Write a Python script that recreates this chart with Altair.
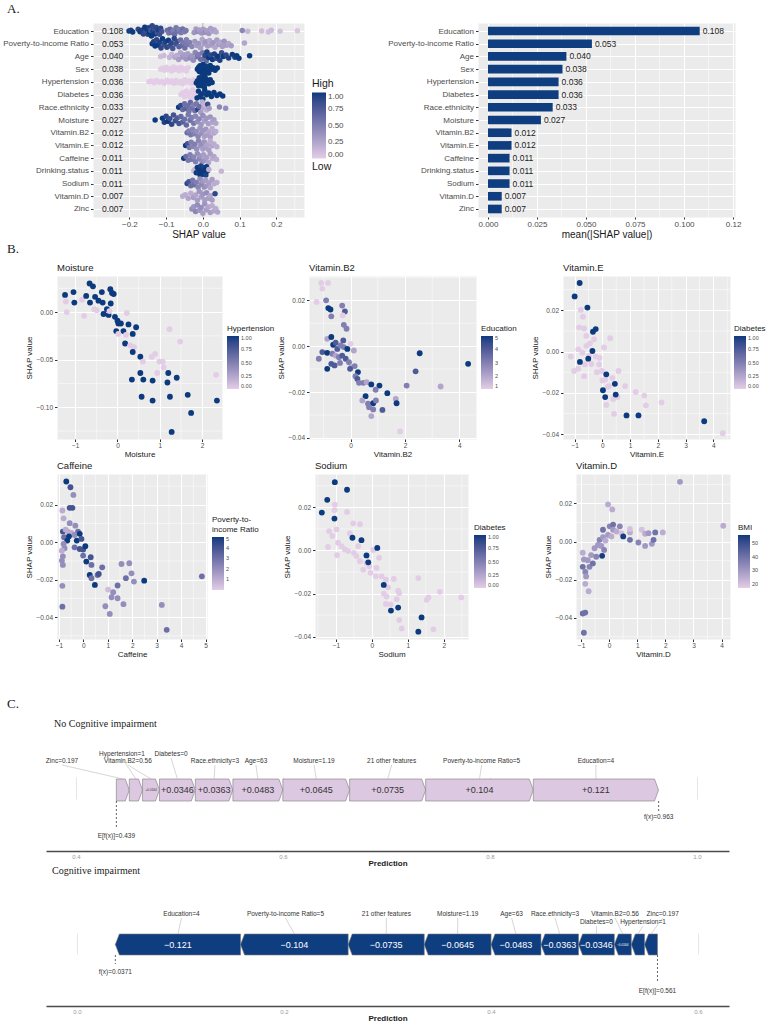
import json
import numpy as np
import pandas as pd
import altair as alt

SANS = "Liberation Sans"
SERIF = "Liberation Serif"
LOW = "#E3CDE6"
HIGH = "#0B3A7E"
NAVY = "#0E3D80"
LILAC = "#DDC8E2"
PANEL = "#EBEBEB"
TICK_TXT = "#4D4D4D"
INK = "#1A1A1A"

# ---------------- A: SHAP importance ----------------
features = ["Education", "Poverty-to-income Ratio", "Age", "Sex", "Hypertension",
            "Diabetes", "Race.ethnicity", "Moisture", "Vitamin.B2", "Vitamin.E",
            "Caffeine", "Drinking.status", "Sodium", "Vitamin.D", "Zinc"]
mean_abs_shap = [0.108, 0.053, 0.040, 0.038, 0.036, 0.036, 0.033, 0.027,
                 0.012, 0.012, 0.011, 0.011, 0.011, 0.007, 0.007]

# (SHAP value, scaled feature value) per beeswarm row
education_pts = [(-0.201, 1.0), (-0.196, 0.95), (-0.191, 1.0), (-0.176, 0.9), (-0.171, 1.0),
                 (-0.166, 0.95), (-0.162, 0.9), (-0.158, 1.0), (-0.155, 0.85), (-0.152, 1.0),
                 (-0.150, 0.9), (-0.147, 0.95), (-0.145, 1.0), (-0.142, 0.8), (-0.140, 1.0),
                 (-0.138, 0.9), (-0.135, 0.95), (-0.132, 0.85), (-0.130, 1.0), (-0.127, 0.9),
                 (-0.124, 0.8), (-0.121, 0.95), (-0.118, 0.85), (-0.115, 0.9), (-0.112, 0.8),
                 (-0.097, 0.6), (-0.093, 0.55), (-0.089, 0.65), (-0.085, 0.6), (-0.081, 0.5),
                 (-0.077, 0.6), (-0.073, 0.55), (-0.069, 0.6), (-0.065, 0.5), (-0.060, 0.55),
                 (-0.055, 0.6), (-0.050, 0.5), (-0.046, 0.55),
                 (-0.024, 0.35), (-0.019, 0.3), (-0.014, 0.4), (-0.009, 0.3), (-0.004, 0.35),
                 (0.001, 0.3), (0.006, 0.4), (0.011, 0.3), (0.016, 0.35), (0.021, 0.3),
                 (0.026, 0.25), (0.031, 0.3), (0.036, 0.25),
                 (0.107, 0.45), (0.122, 0.15), (0.160, 0.1), (0.178, 0.1), (0.186, 0.12),
                 (0.210, 0.08), (0.257, 0.05)]
poverty_pts = [(-0.138, 1.0), (-0.134, 0.95), (-0.130, 1.0), (-0.126, 0.9), (-0.122, 1.0),
               (-0.118, 0.95), (-0.114, 0.9), (-0.110, 1.0), (-0.106, 0.85), (-0.102, 0.95),
               (-0.098, 0.9), (-0.094, 1.0), (-0.090, 0.85), (-0.086, 0.9), (-0.082, 0.8),
               (-0.078, 0.9), (-0.074, 0.8), (-0.070, 0.85),
               (-0.065, 0.7), (-0.061, 0.6), (-0.057, 0.65), (-0.053, 0.55), (-0.049, 0.6),
               (-0.045, 0.5), (-0.041, 0.55), (-0.036, 0.5), (-0.030, 0.45),
               (-0.022, 0.35), (-0.017, 0.3), (-0.012, 0.35), (-0.007, 0.3), (-0.002, 0.25),
               (0.003, 0.3), (0.008, 0.35), (0.013, 0.3), (0.018, 0.25), (0.023, 0.3),
               (0.028, 0.35), (0.033, 0.25), (0.038, 0.3), (0.043, 0.3), (0.048, 0.25),
               (0.053, 0.3), (0.058, 0.35), (0.064, 0.3), (0.070, 0.25), (0.077, 0.3),
               (0.113, 0.25)]
age_pts = [(-0.115, 0.1), (-0.106, 0.12), (-0.091, 0.15), (-0.085, 0.15),
           (-0.076, 0.25), (-0.071, 0.2), (-0.066, 0.3), (-0.061, 0.25), (-0.056, 0.35),
           (-0.051, 0.3), (-0.046, 0.35), (-0.041, 0.3), (-0.036, 0.4), (-0.031, 0.35),
           (-0.026, 0.4), (-0.021, 0.45),
           (-0.016, 0.55), (-0.011, 0.5), (-0.006, 0.6), (-0.001, 0.55), (0.004, 0.6), (0.009, 0.65),
           (0.006, 0.9), (0.011, 0.95), (0.016, 1.0), (0.021, 0.9), (0.026, 1.0), (0.031, 0.95),
           (0.036, 0.9), (0.041, 1.0), (0.046, 0.95), (0.051, 0.85), (0.056, 1.0), (0.063, 0.9),
           (0.070, 0.95), (0.080, 1.0), (0.087, 0.95), (0.092, 1.0), (0.098, 1.0), (0.127, 1.0)]
sex_pts = [(-0.115, 0.0), (-0.110, 0.0), (-0.105, 0.0), (-0.100, 0.0), (-0.095, 0.0),
           (-0.090, 0.0), (-0.085, 0.0), (-0.080, 0.0), (-0.075, 0.0), (-0.070, 0.0),
           (-0.065, 0.0), (-0.060, 0.0), (-0.055, 0.0), (-0.050, 0.0), (-0.045, 0.0), (-0.040, 0.0),
           (-0.015, 1.0), (-0.012, 1.0), (-0.010, 1.0), (-0.008, 1.0), (-0.006, 1.0),
           (-0.004, 1.0), (-0.002, 1.0), (0.000, 1.0), (0.002, 1.0), (0.004, 1.0),
           (0.006, 1.0), (0.008, 1.0), (0.010, 1.0), (0.013, 1.0), (0.016, 1.0),
           (0.020, 1.0), (0.024, 1.0), (0.028, 1.0), (0.033, 1.0), (0.039, 1.0)]
hypertension_pts = [(-0.147, 0.0), (-0.140, 0.0), (-0.133, 0.0), (-0.126, 0.0), (-0.119, 0.0),
                    (-0.112, 0.0), (-0.105, 0.0), (-0.098, 0.0), (-0.091, 0.0), (-0.085, 0.0),
                    (-0.079, 0.0), (-0.073, 0.0), (-0.067, 0.0), (-0.061, 0.0), (-0.055, 0.0),
                    (-0.049, 0.0), (-0.043, 0.0), (-0.037, 0.0), (-0.031, 0.0), (-0.025, 0.0),
                    (-0.018, 1.0), (-0.015, 1.0), (-0.012, 1.0), (-0.010, 1.0), (-0.008, 1.0),
                    (-0.006, 1.0), (-0.004, 1.0), (-0.002, 1.0), (0.000, 1.0), (0.002, 1.0),
                    (0.004, 1.0), (0.006, 1.0), (0.009, 1.0), (0.012, 1.0), (0.016, 1.0),
                    (0.020, 1.0), (0.025, 1.0)]
diabetes_pts = [(-0.060, 0.0), (-0.055, 0.0), (-0.050, 0.0), (-0.045, 0.0), (-0.040, 0.0),
                (-0.036, 0.0), (-0.032, 0.0), (-0.028, 0.0), (-0.024, 0.0), (-0.020, 0.0),
                (-0.016, 1.0), (-0.012, 1.0), (-0.008, 1.0), (-0.004, 1.0), (0.000, 1.0),
                (0.005, 1.0), (0.010, 1.0), (0.016, 1.0), (0.023, 1.0), (0.030, 1.0),
                (0.038, 1.0), (0.046, 1.0), (0.054, 1.0)]
race_pts = [(-0.066, 1.0), (-0.060, 0.9), (-0.055, 0.65), (-0.050, 0.6), (-0.046, 0.7),
            (-0.042, 0.6), (-0.038, 0.55), (-0.034, 0.65), (-0.030, 0.6), (-0.026, 0.5),
            (-0.022, 0.6), (-0.018, 0.55), (-0.014, 0.9), (-0.010, 0.6), (-0.006, 0.3),
            (-0.002, 0.2), (0.002, 0.25), (0.006, 0.15), (0.010, 0.2), (0.013, 0.85),
            (0.017, 0.3), (0.045, 0.45), (0.062, 0.4)]
moisture_row_pts = [(-0.130, 1.0), (-0.110, 1.0), (-0.105, 0.95), (-0.100, 0.9), (-0.095, 1.0),
                    (-0.090, 0.85), (-0.085, 0.9), (-0.080, 0.8), (-0.075, 0.85), (-0.070, 0.75),
                    (-0.065, 0.8), (-0.060, 0.65), (-0.055, 0.7), (-0.050, 0.6), (-0.045, 0.65),
                    (-0.040, 0.55), (-0.035, 0.6), (-0.030, 0.5), (-0.025, 0.55),
                    (-0.020, 0.45), (-0.015, 0.4), (-0.010, 0.45), (-0.005, 0.35), (0.000, 0.4),
                    (0.005, 0.3), (0.010, 0.35), (0.015, 0.3), (0.020, 0.35), (0.025, 0.25),
                    (0.030, 0.3), (0.035, 0.25)]
vitb2_row_pts = [(-0.043, 0.6), (-0.038, 0.5), (-0.033, 0.55), (-0.028, 0.45), (-0.023, 0.5),
                 (-0.018, 0.4), (-0.013, 0.45), (-0.008, 0.35), (-0.004, 0.4), (0.000, 0.35),
                 (0.004, 0.3), (0.008, 0.35), (0.012, 0.3), (0.016, 0.25), (0.020, 0.3),
                 (0.025, 0.2), (0.030, 0.25), (0.035, 0.2)]
vite_row_pts = [(-0.047, 1.0), (-0.042, 0.8), (-0.037, 0.55), (-0.032, 0.5), (-0.027, 0.45),
                (-0.022, 0.5), (-0.017, 0.4), (-0.012, 0.45), (-0.007, 0.35), (-0.003, 0.4),
                (0.000, 0.3), (0.004, 0.35), (0.008, 0.3), (0.012, 0.25), (0.016, 0.3),
                (0.020, 0.2), (0.025, 0.25), (0.030, 0.2), (0.038, 0.2)]
caffeine_row_pts = [(-0.052, 1.0), (-0.046, 0.6), (-0.040, 0.55), (-0.035, 0.5), (-0.030, 0.55),
                    (-0.025, 0.45), (-0.020, 0.5), (-0.015, 0.4), (-0.010, 0.45), (-0.006, 0.35),
                    (-0.002, 0.4), (0.002, 0.3), (0.006, 0.35), (0.010, 0.3), (0.015, 0.25),
                    (0.020, 0.3), (0.025, 0.2), (0.030, 0.25), (0.037, 0.2)]
drinking_row_pts = [(-0.025, 0.1), (-0.021, 0.15), (-0.018, 1.0), (-0.015, 1.0), (-0.012, 0.95),
                    (-0.010, 1.0), (-0.008, 1.0), (-0.006, 0.95), (-0.004, 1.0), (-0.002, 1.0),
                    (0.000, 1.0), (0.002, 0.95), (0.004, 1.0), (0.006, 1.0), (0.008, 0.95),
                    (0.010, 1.0), (0.012, 1.0), (0.016, 0.2), (0.050, 0.15)]
sodium_row_pts = [(-0.043, 0.9), (-0.038, 0.8), (-0.033, 0.6), (-0.028, 0.55), (-0.023, 0.6),
                  (-0.018, 0.5), (-0.013, 0.45), (-0.008, 0.4), (-0.004, 0.45), (0.000, 0.35),
                  (0.004, 0.4), (0.008, 0.3), (0.012, 0.35), (0.016, 0.3), (0.020, 0.25),
                  (0.025, 0.3), (0.030, 0.2), (0.038, 0.2)]
vitd_row_pts = [(-0.055, 0.2), (-0.048, 0.2), (-0.040, 0.25), (-0.033, 0.2), (-0.026, 0.3),
                (-0.020, 0.25), (-0.015, 0.3), (-0.010, 0.35), (-0.005, 0.3), (0.000, 0.35),
                (0.005, 0.3), (0.010, 0.4), (0.015, 0.3), (0.020, 0.25), (0.025, 0.3), (0.033, 0.9)]
zinc_row_pts = [(-0.030, 0.4), (-0.025, 0.35), (-0.020, 0.45), (-0.015, 0.4), (-0.010, 0.35),
                (-0.005, 0.4), (0.000, 0.3), (0.005, 0.35), (0.010, 0.3), (0.015, 0.25),
                (0.020, 0.3), (0.025, 0.2), (0.030, 0.25), (0.035, 0.2), (0.040, 0.25)]

bee_rows = [education_pts, poverty_pts, age_pts, sex_pts, hypertension_pts, diabetes_pts,
            race_pts, moisture_row_pts, vitb2_row_pts, vite_row_pts, caffeine_row_pts,
            drinking_row_pts, sodium_row_pts, vitd_row_pts, zinc_row_pts]

# ---------------- B: dependence plots (feature value, SHAP value, colour feature) ----------------
moisture_pts = [(-1.24, 0.018, 1), (-1.04, 0.021, 1), (-1.02, 0.010, 1), (-1.22, 0.011, 0), (-1.20, 0.000, 0),
                (-0.84, 0.013, 0), (-0.79, -0.004, 0), (-0.74, 0.017, 1), (-0.66, 0.030, 1), (-0.58, 0.027, 1),
                (-0.65, 0.010, 1), (-0.53, 0.016, 1), (-0.45, 0.012, 1), (-0.55, 0.003, 0), (-0.49, 0.002, 0),
                (-0.37, 0.021, 1), (-0.35, 0.010, 1), (-0.33, -0.002, 1), (-0.25, 0.003, 1), (-0.21, -0.003, 1),
                (-0.17, 0.024, 1), (-0.13, 0.020, 1), (-0.09, 0.019, 1), (-0.16, 0.009, 1), (-0.19, 0.001, 0),
                (-0.06, -0.005, 1), (0.00, -0.009, 1), (0.02, -0.012, 1), (0.08, -0.012, 1), (-0.03, -0.020, 1),
                (0.14, -0.020, 1), (0.22, -0.001, 0), (0.02, -0.023, 0), (0.20, -0.024, 0), (0.26, -0.013, 1),
                (0.36, -0.023, 1), (0.44, -0.016, 1), (0.18, -0.033, 1), (0.30, -0.035, 0), (0.39, -0.037, 0),
                (0.36, -0.042, 1), (0.54, -0.047, 1), (0.60, -0.052, 0), (0.34, -0.071, 1), (0.54, -0.064, 1),
                (0.61, -0.071, 1), (0.57, -0.089, 1), (0.83, -0.072, 1), (0.83, -0.093, 1), (0.81, -0.047, 0),
                (0.89, -0.044, 0), (0.94, -0.064, 0), (0.99, -0.052, 0), (1.07, -0.052, 0), (1.09, -0.058, 0),
                (1.20, -0.064, 1), (1.18, -0.074, 1), (1.24, -0.089, 1), (1.40, -0.069, 1), (1.23, -0.018, 0),
                (1.48, -0.031, 0), (1.66, -0.087, 1), (1.74, -0.106, 1), (1.28, -0.126, 1), (2.33, -0.066, 0),
                (2.35, -0.093, 1)]
vitb2_pts = [(-1.08, 0.0276, 1), (-0.83, 0.0276, 1), (-1.04, 0.0251, 1), (-1.25, 0.0193, 1), (-0.90, 0.0200, 3),
             (-0.82, 0.0166, 5), (-0.74, 0.0160, 5), (-0.71, 0.0130, 3), (-0.31, 0.0177, 3), (-0.21, 0.0151, 4),
             (-0.29, 0.0134, 1), (-0.25, 0.0093, 3), (-0.15, 0.0076, 3), (-0.86, 0.0032, 2), (-0.71, 0.0040, 5),
             (-0.64, 0.0006, 5), (-0.55, 0.0015, 4), (-0.49, -0.0012, 4), (-0.37, 0.0003, 3), (-0.27, 0.0025, 4),
             (-0.25, -0.0004, 3), (-0.12, -0.0012, 5), (0.00, 0.0010, 1), (0.12, -0.0019, 2), (-1.17, -0.0055, 3),
             (-1.04, -0.0026, 4), (-0.86, -0.0029, 5), (-0.67, -0.0033, 3), (-0.55, -0.0041, 2), (-0.43, -0.0048, 3),
             (-0.31, -0.0041, 4), (-0.86, -0.0099, 5), (-0.71, -0.0077, 4), (-0.59, -0.0084, 4), (-0.39, -0.0073, 3),
             (-0.18, -0.0055, 4), (-0.06, -0.0070, 3), (0.02, -0.0092, 2), (0.15, -0.0087, 3), (-0.02, -0.0099, 4),
             (0.27, -0.0113, 5), (0.18, -0.0131, 3), (0.25, -0.0143, 4), (0.31, -0.0160, 3), (0.47, -0.0160, 3),
             (0.59, -0.0157, 2), (0.76, -0.0167, 5), (1.06, -0.0172, 5), (0.92, -0.0190, 3), (1.35, -0.0205, 5),
             (0.55, -0.0218, 5), (0.43, -0.0237, 2), (0.64, -0.0251, 3), (0.83, -0.0249, 5), (0.93, -0.0237, 3),
             (0.68, -0.0266, 3), (0.83, -0.0276, 3), (1.17, -0.0278, 4), (0.76, -0.0305, 2), (1.66, -0.0230, 2),
             (1.69, -0.0249, 5), (2.06, -0.0172, 3), (2.39, -0.0110, 4), (2.54, -0.0031, 5), (3.31, -0.0176, 2),
             (4.32, -0.0077, 5), (1.82, -0.0372, 1)]
vite_pts = [(-0.78, 0.0202, 0), (-0.70, 0.0169, 0), (-0.84, 0.0117, 0), (-0.66, 0.0112, 0), (-0.58, 0.0076, 0),
            (-0.30, 0.0060, 0), (0.28, 0.0065, 0), (0.06, 0.0020, 0), (-1.14, -0.0024, 0), (-0.87, 0.0011, 0),
            (-0.72, -0.0005, 0), (-0.58, 0.0028, 0), (-0.48, -0.0021, 0), (-0.45, 0.0040, 0), (-0.40, -0.0060, 0),
            (-0.24, -0.0024, 0), (-0.63, -0.0062, 0), (-1.02, -0.0094, 0), (-0.87, -0.0083, 0), (-0.66, -0.0119, 0),
            (-0.12, -0.0062, 0), (-0.10, -0.0030, 0), (-0.02, -0.0094, 0), (-0.20, -0.0100, 0), (0.00, -0.0140, 0),
            (0.10, -0.0135, 0), (0.36, -0.0127, 0), (0.58, -0.0094, 0), (0.20, -0.0170, 0), (0.24, -0.0167, 0),
            (0.39, -0.0229, 0), (0.55, -0.0220, 0), (0.82, -0.0167, 0), (0.14, -0.0258, 0), (0.42, -0.0301, 0),
            (1.20, -0.0195, 0), (1.51, -0.0213, 0), (1.57, -0.0260, 0), (2.13, -0.0246, 0), (4.34, -0.0395, 0),
            (-0.82, 0.0332, 1), (-1.00, 0.0267, 1), (-0.54, 0.0213, 1), (-0.24, 0.0109, 1), (-0.34, 0.0096, 1),
            (-0.36, 0.0003, 1), (-0.51, -0.0034, 1), (-0.81, -0.0050, 1), (0.14, -0.0110, 1), (0.45, -0.0156, 1),
            (0.02, -0.0187, 1), (0.48, -0.0208, 1), (0.10, -0.0220, 1), (0.87, -0.0309, 1), (1.30, -0.0309, 1),
            (3.67, -0.0337, 1)]
caffeine_pts = [(-0.70, 0.0325, 5), (-0.53, 0.0294, 4), (-0.41, 0.0253, 2), (-0.56, 0.0184, 4), (-0.45, 0.0184, 4),
                (-0.86, 0.0170, 1), (-0.81, 0.0128, 1), (-0.56, 0.0102, 2), (-0.33, 0.0089, 2), (-0.22, 0.0057, 3),
                (-0.84, 0.0057, 4), (-0.73, 0.0068, 1), (-0.63, 0.0057, 1), (-0.49, 0.0050, 1), (-0.36, 0.0039, 2),
                (-0.15, 0.0045, 5), (-0.79, 0.0027, 3), (-0.59, 0.0032, 5), (-0.27, 0.0009, 5), (-0.08, 0.0018, 4),
                (-0.66, 0.0009, 5), (-0.81, -0.0009, 2), (-0.77, -0.0032, 2), (-0.88, -0.0045, 1), (-0.84, -0.0075, 2),
                (-0.88, -0.0098, 2), (-0.84, -0.0121, 2), (-0.36, -0.0027, 3), (-0.15, -0.0036, 4), (-0.01, -0.0039, 4),
                (0.08, -0.0021, 5), (-0.01, -0.0071, 3), (0.30, -0.0080, 4), (0.12, -0.0103, 5), (0.33, -0.0121, 3),
                (0.77, -0.0134, 3), (0.26, -0.0175, 5), (0.33, -0.0192, 3), (0.58, -0.0175, 3), (0.63, -0.0169, 4),
                (0.47, -0.0228, 5), (1.56, -0.0116, 2), (1.88, -0.0112, 2), (1.97, -0.0166, 2), (2.07, -0.0210, 2),
                (1.74, -0.0192, 3), (2.49, -0.0205, 5), (1.40, -0.0231, 3), (1.01, -0.0253, 0.5), (1.22, -0.0267, 2),
                (1.15, -0.0294, 2), (1.40, -0.0299, 2), (0.90, -0.0342, 2), (1.64, -0.0331, 2), (1.08, -0.0383, 2),
                (-0.86, -0.0233, 2), (-0.86, -0.0344, 3), (3.21, -0.0335, 2), (3.41, -0.0468, 3), (4.85, -0.0182, 3)]
sodium_pts = [(-1.03, 0.0213, 0), (-1.04, 0.0187, 0), (-0.69, 0.0179, 0), (-0.52, 0.0126, 0), (-0.33, 0.0122, 0),
              (-1.19, 0.0090, 0), (-0.98, 0.0098, 0), (-1.10, 0.0067, 0), (-1.22, 0.0016, 0), (-0.94, 0.0036, 0),
              (-0.84, 0.0020, 0), (-0.97, -0.0022, 0), (-0.75, 0.0005, 0), (-0.61, 0.0079, 0), (-0.66, -0.0003, 0),
              (-0.50, -0.0011, 0), (-0.38, 0.0020, 0), (-0.43, -0.0026, 0), (-0.33, -0.0050, 0), (-0.15, -0.0058, 0),
              (-0.07, -0.0073, 0), (-0.24, -0.0089, 0), (0.04, 0.0002, 0), (0.20, -0.0034, 0), (0.13, -0.0081, 0),
              (-0.04, -0.0104, 0), (0.11, -0.0120, 0), (0.27, -0.0120, 0), (0.39, -0.0136, 0), (0.61, -0.0132, 0),
              (0.45, -0.0171, 0), (0.33, -0.0200, 0), (0.41, -0.0214, 0), (0.73, -0.0187, 0), (0.76, -0.0198, 0),
              (0.69, -0.0226, 0), (0.39, -0.0248, 0), (0.52, -0.0250, 0), (0.76, -0.0323, 0), (0.83, -0.0362, 0),
              (1.29, -0.0128, 0), (1.52, -0.0229, 0), (1.57, -0.0218, 0), (1.71, -0.0366, 0), (1.89, -0.0192, 0),
              (2.48, -0.0218, 0),
              (-1.03, 0.0317, 1), (-0.69, 0.0282, 1), (-1.24, 0.0235, 1), (-1.39, 0.0176, 1), (-1.04, 0.0148, 1),
              (-0.54, 0.0059, 1), (-0.29, 0.0048, 1), (-0.15, -0.0023, 1), (-0.10, -0.0055, 1), (0.15, 0.0012, 1),
              (0.33, -0.0160, 1), (0.53, -0.0279, 1), (0.73, -0.0265, 1), (1.38, -0.0311, 1), (1.29, -0.0377, 1)]
vitd_pts = [(2.52, 0.0314, 30), (4.06, 0.0083, 25), (-0.04, 0.0195, 25), (0.11, 0.0169, 25), (-0.94, -0.0059, 25),
            (-0.90, -0.0094, 30), (-0.94, -0.0133, 40), (-0.85, -0.0160, 35), (-0.82, -0.0183, 30), (-0.85, -0.0222, 25),
            (-0.73, -0.0261, 25), (-0.94, -0.0378, 40), (-0.85, -0.0373, 40), (-0.90, -0.0479, 40), (-0.76, -0.0098, 30),
            (-0.70, -0.0133, 35), (-0.64, -0.0071, 30), (-0.58, -0.0115, 40), (-0.52, -0.0035, 30), (-0.46, -0.0080, 35),
            (-0.40, -0.0018, 30), (-0.34, 0.0009, 35), (-0.28, -0.0023, 30), (-0.22, 0.0023, 30), (-0.13, 0.0005, 25),
            (-0.18, -0.0044, 35), (-0.22, 0.0062, 40), (0.02, 0.0080, 35), (0.14, 0.0089, 40), (0.14, 0.0062, 30),
            (0.26, 0.0053, 25), (0.38, 0.0080, 35), (0.44, 0.0044, 20), (-0.04, 0.0035, 30), (0.08, 0.0027, 25),
            (0.74, 0.0048, 25), (0.74, 0.0009, 40), (0.74, 0.0066, 20), (1.16, 0.0062, 20), (1.28, 0.0041, 25),
            (1.40, 0.0044, 30), (1.04, -0.0005, 35), (1.28, -0.0023, 30), (1.52, -0.0012, 30), (1.58, 0.0009, 40),
            (1.64, 0.0048, 40), (1.91, 0.0048, 25), (0.50, 0.0027, 55), (-0.25, -0.0075, 55)]

# ---------------- C: force plots ----------------
wf_names = ["Zinc=0.197", "Hypertension=1", "Vitamin.B2=0.56", "Diabetes=0", "Race.ethnicity=3",
            "Age=63", "Moisture=1.19", "21 other features", "Poverty-to-income Ratio=5", "Education=4"]
wf_contrib = [0.0125, 0.0128, 0.0164, 0.0346, 0.0363, 0.0483, 0.0645, 0.0735, 0.104, 0.121]
no_ci_base, no_ci_pred = 0.439, 0.963
ci_base, ci_pred = 0.561, 0.0371
# label anchor positions (prediction units) and label row
top_label_x = [0.3865, 0.4444, 0.4502, 0.4918, 0.5343, 0.5739, 0.630, 0.705, 0.792, 0.9024]
top_label_tier = [0, 1, 0, 1, 0, 0, 0, 0, 0, 0]
bot_label_x = [0.566, 0.547, 0.520, 0.502, 0.462, 0.420, 0.368, 0.299, 0.2015, 0.101]
bot_label_tier = [0, 1, 0, 1, 0, 0, 0, 0, 0, 0]


# ---------------- helpers ----------------
def van_der_corput(n):
    v, denom = 0.0, 1.0
    while n:
        denom *= 2
        n, r = divmod(n, 2)
        v += r / denom
    return v


def swarm_offsets(xs, bw=0.01, half_width=0.44):
    """Quasirandom beeswarm offsets scaled by local density."""
    xs = np.asarray(xs, dtype=float)
    dens = np.exp(-0.5 * ((xs[:, None] - xs[None, :]) / bw) ** 2).sum(axis=1)
    dens = dens / dens.max()
    off = np.zeros(len(xs))
    for rank, i in enumerate(np.argsort(xs, kind="stable")):
        off[i] = (van_der_corput(rank + 1) - 0.5) * 2 * half_width * dens[i]
    return off


def gg_axis(**kw):
    base = dict(grid=True, gridColor="white", gridWidth=1, domain=False,
                tickColor="#333333", tickSize=2.5, labelColor=TICK_TXT,
                titleColor=INK, titleFontWeight="normal")
    base.update(kw)
    return alt.Axis(**base)


def minors(ticks, lo, hi):
    step = ticks[1] - ticks[0]
    cands = [ticks[0] - step / 2] + [t + step / 2 for t in ticks]
    return [round(c, 6) for c in cands if lo < c < hi]


def note(txt, x, y, size, font=SANS, color=INK, align="left", weight="normal"):
    return alt.Chart(pd.DataFrame({"t": [txt]})).mark_text(
        align=align, baseline="middle", font=font, fontSize=size, color=color, fontWeight=weight
    ).encode(x=alt.value(x), y=alt.value(y), text="t:N")


def spacer(w, notes=None):
    base = alt.Chart(pd.DataFrame({"s": [0]})).mark_point(opacity=0).encode(
        x=alt.value(0), y=alt.value(0))
    if notes:
        base = alt.layer(base, *notes)
    return base.properties(width=w, height=1)


gray_view = alt.ViewBackground(fill=PANEL, stroke="transparent")
white_view = alt.ViewBackground(fill="white", stroke="transparent")

# ---------------- A left: beeswarm ----------------
bee_records = []
for r, pts in enumerate(bee_rows):
    offs = swarm_offsets([p[0] for p in pts])
    for (s, c), o in zip(pts, offs):
        bee_records.append({"shap": s, "val": c, "pos": r + o})
bee_df = pd.DataFrame(bee_records)

imp_df = pd.DataFrame({"pos": list(range(len(features))), "imp": mean_abs_shap})
imp_df["lab"] = [f"{v:.3f}" for v in mean_abs_shap]
imp_df["zero"] = 0.0
imp_df["y0"] = imp_df["pos"] - 0.34
imp_df["y1"] = imp_df["pos"] + 0.34

row_scale = alt.Scale(domain=[-0.63, 14.63], reverse=True, nice=False, zero=False)
row_axis = gg_axis(values=list(range(len(features))),
                   labelExpr=json.dumps(features) + "[round(datum.value)]",
                   title="", labelFontSize=8, labelPadding=2, labelLimit=200)

bee_x = alt.Scale(domain=[-0.299, 0.275], nice=False, zero=False)
bee_ticks = [-0.2, -0.1, 0.0, 0.1, 0.2]
bee_axis = gg_axis(values=bee_ticks, format=".1f", title="SHAP value", labelFontSize=8,
                   titleFontSize=10, tickSize=2, labelPadding=1, titlePadding=1)

bee_minor = alt.Chart(pd.DataFrame({"shap": minors(bee_ticks, -0.299, 0.275)})).mark_rule(
    color="white", strokeWidth=0.5).encode(x=alt.X("shap:Q", scale=bee_x, axis=bee_axis))
bee_zero = alt.Chart(pd.DataFrame({"shap": [0.0]})).mark_rule(
    color="#A9A9A9", strokeWidth=1).encode(x=alt.X("shap:Q", scale=bee_x, axis=bee_axis))
bee_points = alt.Chart(bee_df).mark_circle(size=30, opacity=1).encode(
    x=alt.X("shap:Q", scale=bee_x, axis=bee_axis),
    y=alt.Y("pos:Q", scale=row_scale, axis=row_axis),
    color=alt.Color("val:Q", scale=alt.Scale(domain=[0, 1], range=[LOW, HIGH], interpolate="lab"),
                    legend=alt.Legend(orient="none", legendX=219, legendY=56, title="High",
                                      titleFontSize=10.5, titleFontWeight="normal", titleColor=INK,
                                      titlePadding=3, labelFontSize=8, labelColor=TICK_TXT,
                                      gradientLength=66, gradientThickness=14,
                                      values=[0, 0.25, 0.5, 0.75, 1], format=".2f",
                                      direction="vertical")))
bee_vals = alt.Chart(imp_df).mark_text(align="left", baseline="middle", fontSize=8.5, color="#222222").encode(
    x=alt.value(9), y=alt.Y("pos:Q", scale=row_scale, axis=row_axis), text="lab:N")

bee = alt.layer(
    bee_minor, bee_zero, bee_points, bee_vals,
    note("Low", 219, 144, 10.5),
    note("A.", -86, -14, 13, font=SERIF),
).properties(width=211, height=194, view=gray_view)

# ---------------- A right: mean |SHAP| bars ----------------
bar_x = alt.Scale(domain=[-0.0051, 0.126], nice=False, zero=False)
bar_ticks = [0.0, 0.025, 0.05, 0.075, 0.1, 0.125]
bar_axis = gg_axis(values=bar_ticks, labelExpr="datum.value > 0.12 ? '0.12' : format(datum.value, '.3f')",
                   title="mean(|SHAP value|)", labelFontSize=8, titleFontSize=10, tickSize=2,
                   labelPadding=1, titlePadding=1)
bar_minor = alt.Chart(pd.DataFrame({"imp": minors(bar_ticks, -0.0051, 0.126)})).mark_rule(
    color="white", strokeWidth=0.5).encode(x=alt.X("imp:Q", scale=bar_x, axis=bar_axis))
bars = alt.Chart(imp_df).mark_rect(color=NAVY).encode(
    x=alt.X("zero:Q", scale=bar_x, axis=bar_axis), x2="imp:Q",
    y=alt.Y("y0:Q", scale=row_scale, axis=row_axis), y2="y1:Q")
bar_text = alt.Chart(imp_df).mark_text(align="left", baseline="middle", dx=3, fontSize=8.5, color="#222222").encode(
    x=alt.X("imp:Q", scale=bar_x, axis=bar_axis), y=alt.Y("pos:Q", scale=row_scale, axis=row_axis), text="lab:N")
bar = alt.layer(bar_minor, bars, bar_text).properties(width=257, height=194, view=gray_view)


# ---------------- B: dependence panels ----------------
def dependence(pts, title, xlabel, ctitle, xdom, ydom, xticks, yticks, cdom, cvals, cfmt,
               w, h, lx, ly, yfmt=".2f", ctitle_size=8):
    df = pd.DataFrame(pts, columns=["x", "shap", "c"])
    xs = alt.Scale(domain=xdom, nice=False, zero=False)
    ys = alt.Scale(domain=ydom, nice=False, zero=False)
    xax = gg_axis(values=xticks, format="d", title=xlabel, labelFontSize=6.5, titleFontSize=8,
                  tickSize=2.5, labelPadding=1, titlePadding=1)
    yax = gg_axis(values=yticks, format=yfmt, title="SHAP value", labelFontSize=6.5, titleFontSize=8,
                  tickSize=2.5, labelPadding=2, titlePadding=3)
    gx = alt.Chart(pd.DataFrame({"x": minors(xticks, *xdom)})).mark_rule(
        color="white", strokeWidth=0.5).encode(x=alt.X("x:Q", scale=xs, axis=xax))
    gy = alt.Chart(pd.DataFrame({"shap": minors(yticks, *ydom)})).mark_rule(
        color="white", strokeWidth=0.5).encode(y=alt.Y("shap:Q", scale=ys, axis=yax))
    dots = alt.Chart(df).mark_circle(size=34, opacity=1).encode(
        x=alt.X("x:Q", scale=xs, axis=xax),
        y=alt.Y("shap:Q", scale=ys, axis=yax),
        color=alt.Color("c:Q", scale=alt.Scale(domain=cdom, range=[LOW, HIGH], interpolate="lab"),
                        legend=alt.Legend(orient="none", legendX=lx, legendY=ly, title=ctitle,
                                          titleFontSize=ctitle_size, titleFontWeight="normal",
                                          titleColor=INK, titlePadding=3, titleLimit=80,
                                          labelFontSize=5.5, labelColor=TICK_TXT,
                                          gradientLength=53, gradientThickness=12,
                                          values=cvals, format=cfmt, direction="vertical")))
    return alt.layer(gx, gy, dots).properties(
        width=w, height=h, view=gray_view,
        title=alt.TitleParams(title, anchor="start", frame="group", fontSize=9.5, fontWeight="normal",
                              color=INK, offset=3))


p_moist = dependence(moisture_pts, "Moisture", "Moisture", "Hypertension", [-1.43, 2.47], [-0.1334, 0.0379],
                     [-1, 0, 1, 2], [-0.10, -0.05, 0.00], [0, 1], [0, 0.25, 0.5, 0.75, 1], ".2f",
                     165, 163, 170, 49)
p_b2 = dependence(vitb2_pts, "Vitamin.B2", "Vitamin.B2", "Education", [-1.53, 4.61], [-0.0405, 0.0306],
                  [0, 2, 4], [-0.04, -0.02, 0.00, 0.02], [1, 5], [1, 2, 3, 4, 5], "d",
                  167, 163, 172, 49)
p_e = dependence(vite_pts, "Vitamin.E", "Vitamin.E", "Diabetes", [-1.42, 4.60], [-0.0423, 0.0366],
                 [-1, 0, 1, 2, 3, 4], [-0.04, -0.02, 0.00, 0.02], [0, 1], [0, 0.25, 0.5, 0.75, 1], ".2f",
                 167, 163, 171, 49)
p_caf = dependence(caffeine_pts, "Caffeine", "Caffeine", ["Poverty-to-", "income Ratio"], [-1.08, 5.06],
                   [-0.0517, 0.0365], [-1, 0, 1, 2, 3, 4, 5], [-0.04, -0.02, 0.00, 0.02], [0, 5],
                   [1, 2, 3, 4, 5], "d", 150, 165, 155, 42)
p_sod = dependence(sodium_pts, "Sodium", "Sodium", "Diabetes", [-1.58, 2.67], [-0.0411, 0.0355],
                   [-1, 0, 1, 2], [-0.04, -0.02, 0.00, 0.02], [0, 1], [0, 0.25, 0.5, 0.75, 1], ".2f",
                   153, 165, 159, 50)
p_vd = dependence(vitd_pts, "Vitamin.D", "Vitamin.D", "BMI", [-1.18, 4.30], [-0.0512, 0.0355],
                  [-1, 0, 1, 2, 3, 4], [-0.04, -0.02, 0.00, 0.02], [17, 56], [20, 30, 40, 50], "d",
                  154, 165, 162, 50)

# ---------------- C: force plots ----------------
HEAD = 0.0039


def force_panel(base, pred, sign, fill, txt_color, label_x, label_tier, tier_y, domain, ticks,
                arrow_y, e_dash, e_lab, f_dash, f_lab, notes):
    xs = alt.Scale(domain=domain, nice=False, zero=False)
    ax = alt.Axis(values=ticks, format=".1f", title="Prediction", grid=True, gridColor="#E6E6E6",
                  gridWidth=1, domain=True, domainColor="#4A4A4A", domainWidth=1.5, ticks=False,
                  labelFontSize=6, labelColor="#9A9A9A", labelPadding=2, titleFontSize=8,
                  titleFontWeight="bold", titleColor="#222222", titlePadding=0)
    px_per_unit = 683 / (domain[1] - domain[0])
    poly, inner, labs = [], [], []
    pos = base
    for i, (name, c) in enumerate(zip(wf_names, wf_contrib)):
        d = sign * c
        s, e = pos, pos + d
        pos = e
        hd = min(HEAD, c / 2)
        if d > 0:
            verts = [(s, 0.0, 1.0), (e - hd, 0.0, 1.0), (e, 0.5, 0.5)]
        else:
            verts = [(e, 0.5, 0.5), (e + hd, 0.0, 1.0), (s, 0.0, 1.0)]
        for vx, ya, yb in verts:
            poly.append({"id": i, "x": vx, "ya": ya, "yb": yb})
        wpx = c * px_per_unit
        if wpx > 15:
            inner.append({"x": (s + e) / 2, "t": ("+" if d > 0 else "\u2212") + f"{c:.3g}",
                          "fs": 9 if wpx > 30 else 3.2})
        labs.append({"x": label_x[i], "cx": (s + e) / 2, "t": name, "tier": label_tier[i]})
    mid = (arrow_y[0] + arrow_y[1]) / 2
    xenc = dict(scale=xs, axis=ax)

    arrows = alt.Chart(pd.DataFrame(poly)).mark_area(
        fill=fill, stroke="#7B7B7B", strokeWidth=0.6, opacity=1).encode(
        x=alt.X("x:Q", **xenc),
        y=alt.Y("ya:Q", scale=alt.Scale(domain=[0, 1], range=[arrow_y[0], arrow_y[1]]), axis=None, stack=None),
        y2="yb:Q", detail="id:N")
    inner_txt = alt.Chart(pd.DataFrame(inner)).mark_text(color=txt_color, baseline="middle").encode(
        x=alt.X("x:Q", **xenc), y=alt.value(mid), text="t:N",
        size=alt.Size("fs:Q", scale=None, legend=None))
    layers = [arrows, inner_txt]
    lab_df = pd.DataFrame(labs)
    for tier, ty in tier_y.items():
        sub = lab_df[lab_df["tier"] == tier]
        layers.append(alt.Chart(sub).mark_rule(color="#BBBBBB", strokeWidth=0.6).encode(
            x=alt.X("x:Q", **xenc), x2="cx:Q", y=alt.value(ty + 4), y2=alt.value(arrow_y[0])))
        layers.append(alt.Chart(sub).mark_text(fontSize=6.5, color="#333333", baseline="middle").encode(
            x=alt.X("x:Q", **xenc), y=alt.value(ty), text="t:N"))
    ref = pd.DataFrame({"x": [base, pred],
                        "t": [f"E[f(x)]={base:.3g}", f"f(x)={pred:.3g}"]})
    for k, (dash, ly) in enumerate([(e_dash, e_lab), (f_dash, f_lab)]):
        one = ref.iloc[[k]]
        layers.append(alt.Chart(one).mark_rule(color="#555555", strokeWidth=0.9, strokeDash=[2, 2]).encode(
            x=alt.X("x:Q", **xenc), y=alt.value(dash[0]), y2=alt.value(dash[1])))
        layers.append(alt.Chart(one).mark_text(fontSize=6.5, color="#333333", baseline="middle").encode(
            x=alt.X("x:Q", **xenc), y=alt.value(ly), text="t:N"))
    layers += notes
    return alt.layer(*layers).properties(width=683, height=124, view=white_view)


c_top = force_panel(no_ci_base, no_ci_pred, 1, LILAC, "#333333", top_label_x, top_label_tier,
                    {0: 34, 1: 27}, [0.371, 1.031], [0.4, 0.6, 0.8, 1.0],
                    (52, 74), (74, 102), 109, (74, 84), 90,
                    [note("C.", -39, -23, 13, font=SERIF),
                     note("No Cognitive impairment", 8, -3, 10, font=SERIF)])
c_bot = force_panel(ci_base, ci_pred, -1, NAVY, "white", bot_label_x, bot_label_tier,
                    {0: 32, 1: 40}, [-0.0299, 0.6301], [0.0, 0.2, 0.4, 0.6],
                    (52, 73), (73, 100), 109, (73, 82), 90,
                    [note("Cognitive impairment", 6, -11, 10, font=SERIF)])


# ---------------- composition ----------------
def flush_h(*charts, spacing):
    return alt.hconcat(*charts, spacing=spacing, bounds="flush").resolve_scale(
        x="independent", y="independent", color="independent")


def flush_v(*charts, spacing):
    return alt.vconcat(*charts, spacing=spacing, bounds="flush").resolve_scale(
        x="independent", y="independent", color="independent")


row_a = flush_h(spacer(47), flush_h(bee, bar, spacing=174), spacing=0)
row_b1 = flush_h(spacer(11, [note("B.", -39, -27, 13, font=SERIF)]),
                 flush_h(p_moist, p_b2, p_e, spacing=87), spacing=0)
row_b2 = flush_h(spacer(11), flush_h(p_caf, p_sod, p_vd, spacing=108), spacing=0)
part_c = flush_v(c_top, c_bot, spacing=31)

chart = flush_v(row_a,
                flush_v(row_b1,
                        flush_v(row_b2, part_c, spacing=253),
                        spacing=198),
                spacing=253)

chart = chart.properties(
    padding={"left": 2, "top": 2, "right": 0, "bottom": 0},
    background="white",
).configure(font=SANS).configure_view(stroke="transparent").configure_axis(
    labelFont=SANS, titleFont=SANS).configure_legend(labelFont=SANS, titleFont=SANS)

chart.save("out.html", embed_options={"renderer": "svg", "actions": False})
